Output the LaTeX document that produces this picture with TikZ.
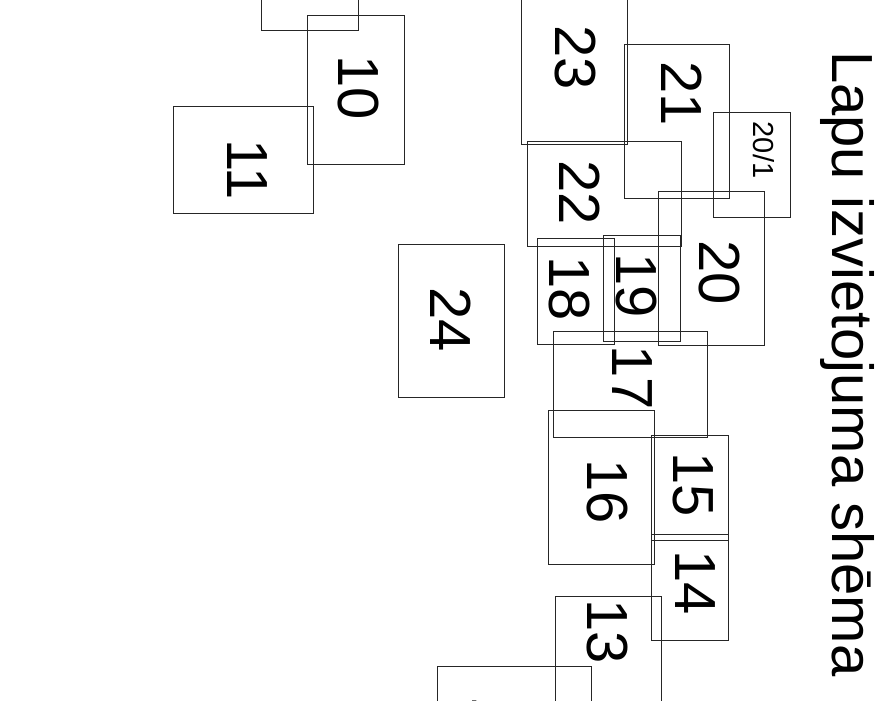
\documentclass[tikz,border=0pt]{standalone}
\usepackage{fontspec}
\setmainfont{Liberation Sans}
\tikzset{
  sheet/.style={draw=black!85, line width=0.9pt},
  lbl/.style={rotate=-90, inner sep=0pt, font=\fontsize{58}{58}\selectfont},
  smalllbl/.style={rotate=-90, inner sep=0pt, font=\fontsize{29}{29}\selectfont},
  titlelbl/.style={rotate=-90, inner sep=0pt, anchor=base west, font=\fontsize{58}{58}\selectfont}
}
\begin{document}
\begin{tikzpicture}[x=1pt,y=-1pt]
\useasboundingbox (0,0) rectangle (878,701);
\clip (0,0) rectangle (878,701);
% sheets
\draw[sheet] (261,-130) rectangle (358,30);
\draw[sheet] (307,15) rectangle (404,164);
\draw[sheet] (173.3,106) rectangle (313.7,213.7);
\draw[sheet] (521,-20) rectangle (627,144);
\draw[sheet] (624.3,44.3) rectangle (729.7,198.3);
\draw[sheet] (713.3,112.3) rectangle (790.3,217.7);
\draw[sheet] (527.7,141) rectangle (681.7,246.3);
\draw[sheet] (658.7,191.7) rectangle (764.3,345);
\draw[sheet] (537.3,238.7) rectangle (614.3,344);
\draw[sheet] (603.7,235.7) rectangle (680.7,341);
\draw[sheet] (553.7,331.7) rectangle (707.7,437.3);
\draw[sheet] (398.3,244.3) rectangle (504,397.7);
\draw[sheet] (548.3,410.7) rectangle (654.3,564.3);
\draw[sheet] (651.7,435.3) rectangle (728.3,540);
\draw[sheet] (651.7,534.3) rectangle (728.3,640);
\draw[sheet] (555,596) rectangle (661,760);
\draw[sheet] (437.3,666.7) rectangle (591.7,800);
% labels
\node[lbl] (l10) at (358,88) {10};
\node[lbl] (l11) at (247.5,169.5) {11};
\node[lbl] (l23) at (575,58) {23};
\node[lbl] (l21) at (681.7,93.5) {21};
\node[smalllbl] (l201) at (763.5,150) {20/1};
\node[lbl] (l22) at (579.7,193) {22};
\node[lbl] (l20) at (719,272.5) {20};
\node[lbl] (l18) at (569,289) {18};
\node[lbl] (l19) at (636.7,285.5) {19};
\node[lbl] (l17) at (632.5,377.5) {17};
\node[lbl] (l24) at (451,319.5) {24};
\node[lbl] (l16) at (607.5,492) {16};
\node[lbl] (l15) at (693.5,484.5) {15};
\node[lbl] (l14) at (695,583) {14};
\node[lbl] (l13) at (607,631.5) {13};
\node[lbl] (l12) at (493,729) {12};
% title
\node[titlelbl] (title) at (832.7,51) {Lapu izvietojuma shēma};
\end{tikzpicture}
\end{document}
